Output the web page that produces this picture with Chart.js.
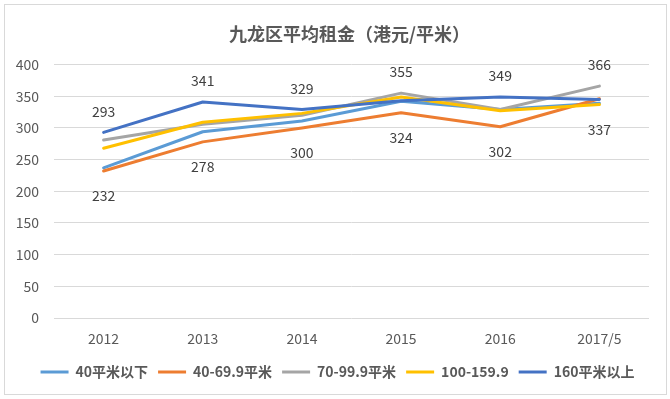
<!DOCTYPE html>
<html>
<head>
<meta charset="utf-8">
<script src="https://cdn.jsdelivr.net/npm/chart.js@4"></script>
<style>
  body { margin: 0; background: #fff; }
</style>
</head>
<body>
<canvas id="grafico" width="670" height="399"></canvas>
<script>
// dados
const anos = ['2012', '2013', '2014', '2015', '2016', '2017/5'];
const series = ['40平米以下', '40-69.9平米', '70-99.9平米', '100-159.9', '160平米以上'];
const ate40 = [237, 294, 311, 342, 329, 339];
const de40a69 = [232, 278, 300, 324, 302, 346];
const de70a99 = [281, 306, 320, 355, 329, 366];
const de100a159 = [268, 309, 323, 349, 327, 337];
const acima160 = [293, 341, 329, 343, 349, 345];
const dados = [ate40, de40a69, de70a99, de100a159, acima160];
const cores = ['#5B9BD5', '#ED7D31', '#A5A5A5', '#FFC000', '#4472C4'];

const cinza = '#595959';
Chart.defaults.font.family = '"Noto Sans CJK SC", "Liberation Sans", sans-serif';

// fundo, moldura e ajuste do titulo/legenda
const moldura = {
  id: 'moldura',
  beforeDraw(chart) {
    const c = chart.ctx;
    c.save();
    c.fillStyle = '#fff';
    c.fillRect(0, 0, chart.width, chart.height);
    c.strokeStyle = '#d9d9d9';
    c.lineWidth = 1;
    c.strokeRect(4.5, 4.5, 662, 390);
    c.restore();
  },
  afterLayout(chart) {
    chart.titleBlock.left += 23;
    chart.titleBlock.right += 23;
    chart.legend.left += 11;
    chart.legend.right += 11;
  }
};

// rotulos: maior valor em cima, menor embaixo
const rotulos = {
  id: 'rotulos',
  afterDatasetsDraw(chart) {
    const c = chart.ctx;
    c.save();
    c.font = '14px "Noto Sans CJK SC", "Liberation Sans", sans-serif';
    c.fillStyle = '#404040';
    c.textAlign = 'center';
    c.textBaseline = 'middle';
    anos.forEach((ano, i) => {
      const vals = dados.map(d => d[i]);
      const iMax = vals.indexOf(Math.max(...vals));
      const iMin = vals.indexOf(Math.min(...vals));
      const pMax = chart.getDatasetMeta(iMax).data[i];
      const pMin = chart.getDatasetMeta(iMin).data[i];
      c.fillText(vals[iMax], pMax.x, pMax.y - 21);
      c.fillText(vals[iMin], pMin.x, pMin.y + 25);
    });
    c.restore();
  }
};

const ctx = document.querySelector('#grafico');

new Chart(ctx, {
  type: 'line',
  data: {
    labels: anos,
    datasets: series.map((nome, i) => ({
      label: nome,
      data: dados[i],
      borderColor: cores[i],
      backgroundColor: cores[i],
      borderWidth: 3,
      borderCapStyle: 'round',
      borderJoinStyle: 'round',
      pointRadius: 0,
      tension: 0,
      fill: false,
      order: series.length - i
    }))
  },
  options: {
    responsive: false,
    animation: false,
    layout: { padding: { top: 5, left: 4, right: 21, bottom: 10 } },
    plugins: {
      title: {
        display: true,
        text: '九龙区平均租金（港元/平米）',
        color: cinza,
        font: { size: 18, weight: 'bold' },
        padding: { top: 18, bottom: 20 }
      },
      legend: {
        position: 'bottom',
        labels: {
          boxWidth: 28,
          boxHeight: 3,
          padding: 10,
          color: cinza,
          font: { size: 14, weight: 'bold' },
          sort: (a, b) => a.datasetIndex - b.datasetIndex,
          generateLabels(chart) {
            const itens = Chart.defaults.plugins.legend.labels.generateLabels(chart);
            itens.forEach(it => { it.lineWidth = 0; });
            return itens;
          }
        }
      },
      tooltip: { enabled: false }
    },
    scales: {
      x: {
        offset: true,
        grid: { display: false, drawTicks: false },
        border: { display: false },
        ticks: { color: cinza, font: { size: 14 }, padding: 12 },
        afterFit(s) { s.height = 37; }
      },
      y: {
        min: 0,
        max: 400,
        ticks: { stepSize: 50, color: cinza, font: { size: 14 }, padding: 15 },
        grid: { color: '#d9d9d9', drawTicks: false },
        border: { display: false },
        afterFit(s) { s.width = 50; }
      }
    }
  },
  plugins: [moldura, rotulos]
});
</script>
</body>
</html>
